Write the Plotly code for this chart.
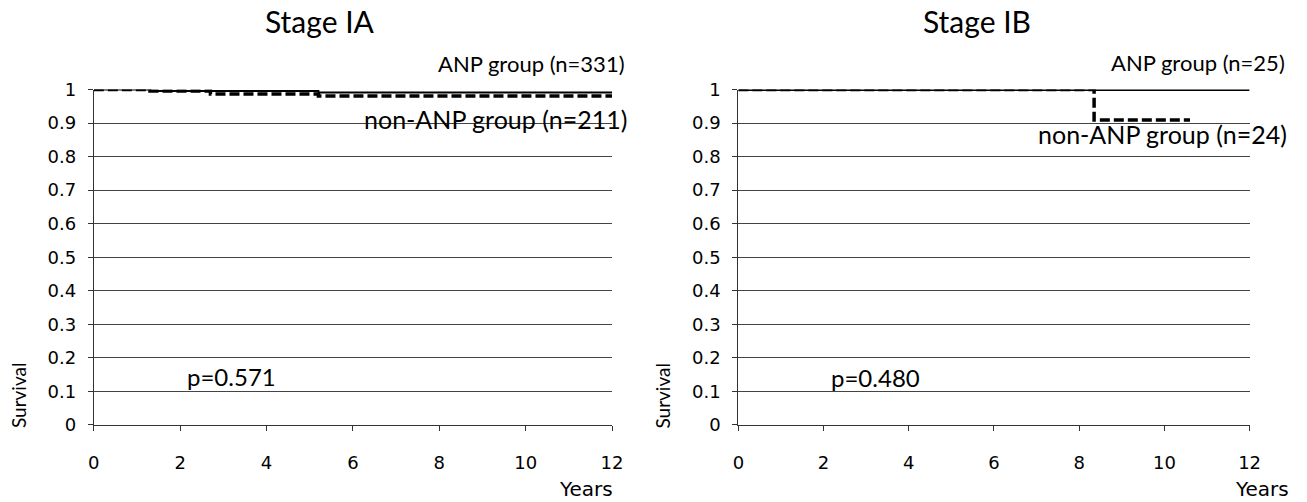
import plotly.graph_objects as go

# ---- data ----
years_ticks = [0, 2, 4, 6, 8, 10, 12]
surv_ticks = [0, 0.1, 0.2, 0.3, 0.4, 0.5, 0.6, 0.7, 0.8, 0.9, 1]
surv_tick_labels = ["0", "0.1", "0.2", "0.3", "0.4", "0.5", "0.6", "0.7", "0.8", "0.9", "1"]

ia_anp_t = [0, 1.3, 5.2, 12]
ia_anp_s = [1.0, 0.996, 0.991, 0.991]
ia_non_t = [0, 1.3, 2.7, 5.2, 12]
ia_non_s = [1.0, 0.996, 0.987, 0.981, 0.981]

ib_anp_t = [0, 12]
ib_anp_s = [1.0, 1.0]
ib_non_t = [0, 8.35, 10.6]
ib_non_s = [1.0, 0.909, 0.909]

titles = ["Stage IA", "Stage IB"]
anp_labels = ["ANP group (n=331)", "ANP group (n=25)"]
non_labels = ["non-ANP group (n=211)", "non-ANP group (n=24)"]
p_labels = ["p=0.571", "p=0.480"]

W, H = 1307, 502
TXT = "Lato, 'Open Sans', sans-serif"
TICKF = "DejaVu Sans, Verdana, sans-serif"

fig = go.Figure()

def px_x(p):
    return p / W

def px_y(p):
    return 1 - p / H

dom_left = [px_x(89), px_x(614)]
dom_right = [px_x(742), px_x(1260)]
ydom = [px_y(432), px_y(82)]

fig.add_trace(go.Scatter(x=ia_anp_t, y=ia_anp_s, mode="lines", line=dict(shape="hv", color="black", width=2),
                         xaxis="x", yaxis="y", cliponaxis=False, showlegend=False))
fig.add_trace(go.Scatter(x=ia_non_t, y=ia_non_s, mode="lines", line=dict(shape="hv", color="black", width=3.5, dash="10px,4px"),
                         xaxis="x", yaxis="y", cliponaxis=False, showlegend=False))
fig.add_trace(go.Scatter(x=ib_anp_t, y=ib_anp_s, mode="lines", line=dict(shape="hv", color="black", width=3),
                         xaxis="x2", yaxis="y2", cliponaxis=False, showlegend=False))
fig.add_trace(go.Scatter(x=ib_non_t, y=ib_non_s, mode="lines", line=dict(shape="hv", color="black", width=3.5, dash="10px,4px"),
                         xaxis="x2", yaxis="y2", cliponaxis=False, showlegend=False))

axis_common = dict(showline=True, linecolor="#333", linewidth=1, ticks="outside", ticklen=5,
                   tickcolor="#333", tickfont=dict(family=TICKF, size=18, color="black"), zeroline=False)

fig.update_layout(
    width=W, height=H,
    margin=dict(l=0, r=0, t=0, b=0),
    paper_bgcolor="white", plot_bgcolor="white",
    xaxis=dict(domain=dom_left, range=[0, 12], tickvals=years_ticks, showgrid=False, anchor="y",
               ticklabelstandoff=16, **axis_common),
    yaxis=dict(domain=ydom, range=[0, 1], tickvals=surv_ticks, ticktext=surv_tick_labels, showgrid=True,
               gridcolor="#444", gridwidth=1, anchor="x", ticklabelstandoff=8, **axis_common),
    xaxis2=dict(domain=dom_right, range=[0, 12], tickvals=years_ticks, showgrid=False, anchor="y2",
                ticklabelstandoff=16, **axis_common),
    yaxis2=dict(domain=ydom, range=[0, 1], tickvals=surv_ticks, ticktext=surv_tick_labels, showgrid=True,
                gridcolor="#444", gridwidth=1, anchor="x2", ticklabelstandoff=8, **axis_common),
)

def note(text, x, y, size, xanchor="center", family=TXT, angle=0):
    return dict(text=text, x=px_x(x), y=px_y(y), xref="paper", yref="paper", textangle=angle,
                showarrow=False, font=dict(family=family, size=size, color="black"),
                xanchor=xanchor, yanchor="middle")

ann = [
    note(titles[0], 318, 10, 30),
    note(titles[1], 984, 10, 30),
    note(anp_labels[0], 629, 55, 22, "right"),
    note(anp_labels[1], 1298, 54, 22, "right"),
    note(non_labels[0], 631, 113, 25, "right"),
    note(non_labels[1], 1300, 128, 25, "right"),
    note(p_labels[0], 181, 381, 24, "left"),
    note(p_labels[1], 834, 383, 24, "left"),
    note("Survival", 12, 401, 19, angle=-90),
    note("Survival", 665, 401, 19, angle=-90),
    note("Years", 617, 499, 20, "right", TICKF),
    note("Years", 1302, 499, 20, "right", TICKF),
]
fig.update_layout(annotations=ann)

fig.write_html("out.html", config={"displayModeBar": False},
               post_script="document.body.style.margin='0';")
